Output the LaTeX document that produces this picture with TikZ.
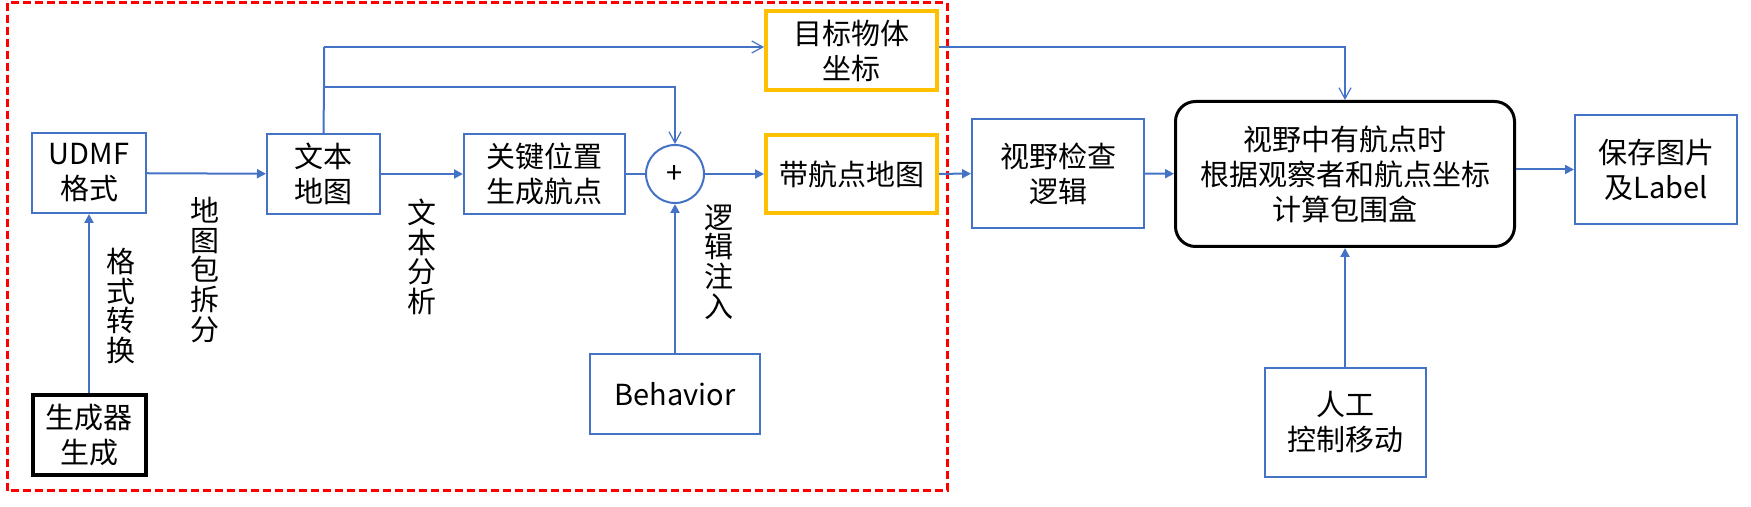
\documentclass[tikz,border=0pt]{standalone}
\usepackage{fontspec}
\setmainfont{Noto Sans CJK SC}
\usetikzlibrary{arrows.meta, shapes}
\definecolor{lineblue}{HTML}{4472C4}
\definecolor{boxorange}{HTML}{FFC000}

\begin{document}
\begin{tikzpicture}[x=0.5pt, y=-0.5pt, font=\fontsize{14.5}{17.5}\selectfont,
    box/.style={draw=lineblue, line width=1pt, inner sep=0pt, align=center},
    markbox/.style={draw=boxorange, line width=2pt, inner sep=0pt, align=center},
    flow/.style={draw=lineblue, line width=1pt, -{Triangle[length=4.5pt, width=4.5pt]}},
    feed/.style={draw=lineblue, line width=0.6pt, -{Straight Barb[length=5.5pt, width=6pt]}},
    vlabel/.style={align=center, font=\fontsize{14.5}{14.8}\selectfont}]
    \useasboundingbox (0,0) rectangle (1751,507);
    % Define the generation part as a dashed frame
    \draw[red, line width=1.5pt, dash pattern=on 4pt off 2pt] (7,3) rectangle (947,491);
    % boxes
    \node[draw=black, line width=2pt, inner sep=0pt, align=center, minimum width=56.5pt, minimum height=40pt] (gen) at (89,435) {生成器\\生成};
    \node[box, minimum width=57pt, minimum height=40pt] (udmf) at (89,173) {UDMF\\格式};
    \node[box, minimum width=56.5pt, minimum height=40pt] (txtmap) at (323.5,174) {文本\\地图};
    \node[box, minimum width=80.5pt, minimum height=40pt] (key) at (544.5,174) {关键位置\\生成航点};
    \node[circle, draw=lineblue, line width=1pt, inner sep=0pt, minimum size=29pt] (plus) at (675,174) {+};
    \node[box, minimum width=85pt, minimum height=40pt] (behav) at (675,394) {Behavior};
    \node[markbox, minimum width=85.5pt, minimum height=39.5pt] (target) at (851.5,50.5) {目标物体\\坐标};
    \node[markbox, minimum width=85.5pt, minimum height=39pt] (wpmap) at (851.5,174) {带航点地图};
    \node[box, minimum width=86pt, minimum height=54.5pt] (view) at (1058,173.5) {视野检查\\逻辑};
    \node[draw=black, line width=1.5pt, rounded corners=10pt, inner sep=0pt, align=center, minimum width=169.5pt, minimum height=72.5pt] (bbox) at (1345,174) {视野中有航点时\\根据观察者和航点坐标\\计算包围盒};
    \node[box, minimum width=80.5pt, minimum height=54.5pt] (manual) at (1345,422.5) {人工\\控制移动};
    \node[box, minimum width=81pt, minimum height=54.5pt] (save) at (1656,169.5) {保存图片\\及Label};
    % arrows
    \draw[flow] (gen) -- (udmf);
    \draw[flow] (udmf) -- (txtmap);
    \draw[flow] (txtmap) -- (key);
    \draw[draw=lineblue, line width=1pt] (key) -- (plus);
    \draw[flow] (plus) -- (wpmap);
    \draw[flow] (behav) -- (plus);
    \draw[flow] (wpmap) -- (view);
    \draw[flow] (view) -- (bbox);
    \draw[flow] (manual) -- (bbox);
    \draw[flow] (bbox.east |- save) -- (save);
    % branches from the text map
    \coordinate (split) at (324,87);
    \coordinate (top) at (324,47);
    \draw[draw=lineblue, line width=1pt] (txtmap.north) -- (split) -- (top);
    \draw[feed] (split) -| (plus.north);
    \draw[feed] (top) -- (target.west |- top);
    \draw[feed] (target.east |- top) -| (bbox.north);
    % labels
    \node[vlabel] (lconv) at (121,306) {格\\式\\转\\换};
    \node[vlabel] (lsplit) at (205,270) {地\\图\\包\\拆\\分};
    \node[vlabel] (ltext) at (422,257) {文\\本\\分\\析};
    \node[vlabel] (llogic) at (719,262) {逻\\辑\\注\\入};
\end{tikzpicture}
\end{document}
